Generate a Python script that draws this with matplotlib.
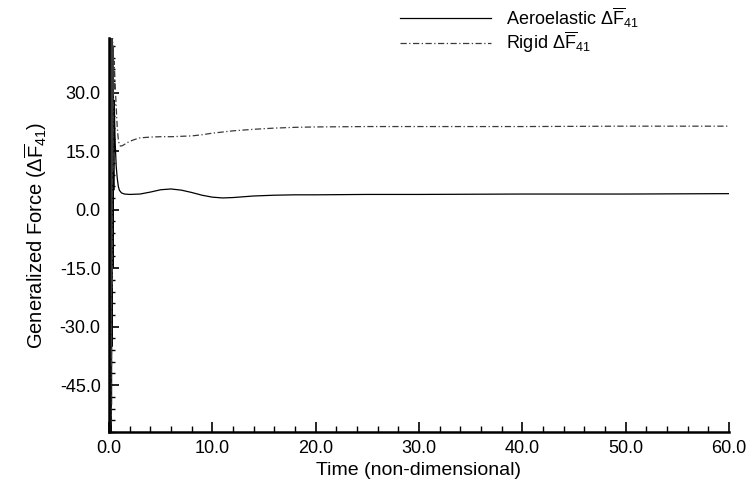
import matplotlib
matplotlib.use("Agg")
import matplotlib.pyplot as plt
from matplotlib.ticker import MultipleLocator, FormatStrFormatter

plt.rcParams['font.family'] = ['Liberation Sans', 'DejaVu Sans']
plt.rcParams['mathtext.fontset'] = 'custom'
plt.rcParams['mathtext.rm'] = 'Liberation Sans'
plt.rcParams['mathtext.it'] = 'Liberation Sans:italic'
plt.rcParams['axes.unicode_minus'] = False

# time histories (initial transient is a dense oscillation)
time_aero = [0.0, 0.03, 0.06, 0.09, 0.12, 0.15, 0.18, 0.21, 0.24, 0.27, 0.30,
             0.34, 0.38, 0.42, 0.46, 0.50, 0.55, 0.6, 0.7, 0.8, 0.9, 1.0, 1.2,
             1.5, 2.0, 3.0, 4.0, 5.0, 6.0, 7.0, 8.0, 9.0, 10.0, 11.0, 12.0,
             14.0, 16.0, 18.0, 20.0, 25.0, 30.0, 40.0, 50.0, 60.0]
force_aero = [0.0, 70.0, -75.0, 65.0, -70.0, 60.0, -62.0, 55.0, -50.0, 48.0, -35.0,
              40.0, -15.0, 35.0, 5.0, 28.0, 22.0, 17.0, 11.0, 8.0, 6.0, 5.0, 4.3,
              4.0, 3.9, 4.0, 4.5, 5.1, 5.3, 5.0, 4.4, 3.7, 3.2, 3.0, 3.1,
              3.5, 3.7, 3.8, 3.8, 3.9, 3.9, 4.0, 4.0, 4.1]

time_rigid = [0.0, 0.03, 0.06, 0.09, 0.12, 0.15, 0.18, 0.21, 0.24, 0.27, 0.30,
              0.34, 0.38, 0.42, 0.46, 0.50, 0.6, 0.7, 0.8, 0.9, 1.0, 1.1, 1.3,
              1.6, 2.0, 2.5, 3.0, 4.0, 5.0, 6.0, 7.0, 8.0, 9.0, 10.0, 12.0,
              14.0, 16.0, 18.0, 20.0, 25.0, 30.0, 40.0, 50.0, 60.0]
force_rigid = [0.0, 68.0, -72.0, 62.0, -66.0, 58.0, -55.0, 52.0, -40.0, 48.0, -20.0,
               45.0, 10.0, 42.0, 30.0, 38.0, 32.0, 26.0, 21.0, 18.0, 16.6, 16.3, 16.4,
               16.9, 17.5, 18.0, 18.4, 18.6, 18.7, 18.7, 18.8, 18.9, 19.2, 19.6, 20.2,
               20.6, 20.9, 21.1, 21.2, 21.3, 21.3, 21.3, 21.4, 21.4]

x_ticks = [0, 10, 20, 30, 40, 50, 60]
y_ticks = [-45, -30, -15, 0, 15, 30]


def main():
    fig = plt.figure(figsize=(7.47, 4.86), dpi=100)
    ax = fig.add_axes([109 / 747, 54 / 486, 620 / 747, 394 / 486])

    ax.plot(time_aero, force_aero, color='black', lw=0.9,
            label=r'Aeroelastic $\Delta\overline{\mathrm{F}}_{41}$')
    ax.plot(time_rigid, force_rigid, color='#3a3a3a', lw=0.9, ls=(0, (5, 2, 1, 2)),
            label=r'Rigid $\Delta\overline{\mathrm{F}}_{41}$')

    ax.set_xlim(0, 60)
    ax.set_ylim(-57, 44)
    ax.set_xticks(x_ticks)
    ax.set_yticks(y_ticks)
    ax.xaxis.set_minor_locator(MultipleLocator(2))
    ax.yaxis.set_minor_locator(MultipleLocator(3))
    ax.xaxis.set_major_formatter(FormatStrFormatter('%.1f'))
    ax.yaxis.set_major_formatter(FormatStrFormatter('%.1f'))

    for side in ['top', 'right']:
        ax.spines[side].set_visible(False)
    for side in ['left', 'bottom']:
        ax.spines[side].set_linewidth(1.8)

    ax.tick_params(which='major', direction='in', length=7, width=1.2,
                   labelsize=13, pad=6)
    ax.tick_params(which='minor', direction='in', length=4, width=1.0)

    ax.set_xlabel('Time (non-dimensional)', fontsize=14, labelpad=3)
    ax.set_ylabel(r'Generalized Force ($\Delta\overline{\mathrm{F}}_{41}$)', fontsize=14.5,
                  labelpad=8)

    fig.legend(loc='upper left', bbox_to_anchor=(384 / 747, 1.023), frameon=False,
               fontsize=13, handlelength=5.0, handletextpad=0.85, labelspacing=0.0)

    fig.savefig('out.png', dpi=100)


if __name__ == "__main__":
    main()
